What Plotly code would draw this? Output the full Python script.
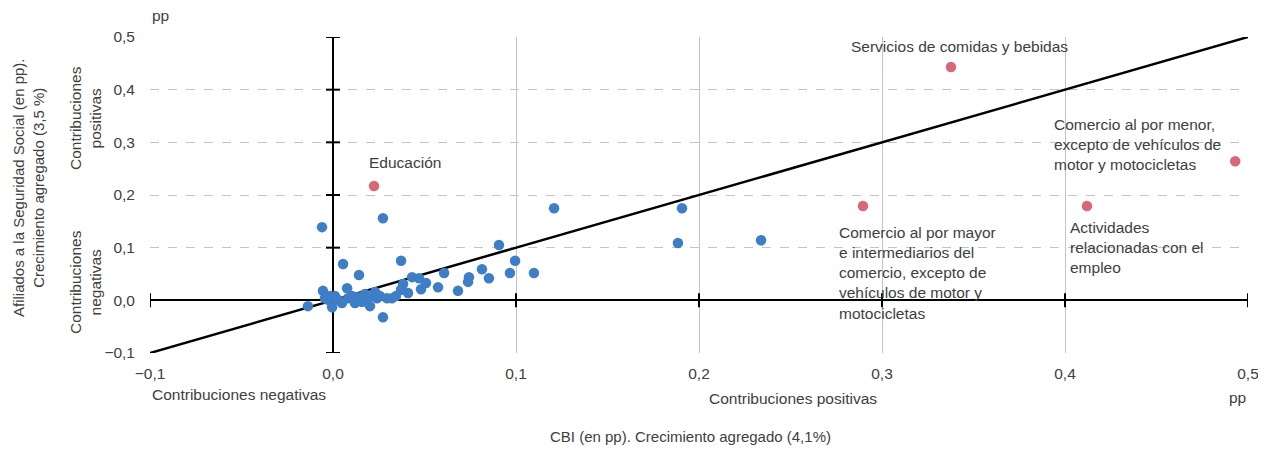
import plotly.graph_objects as go

# Blue points (other sectors)
blue_x = [-0.0060, 0.0273, 0.1208, 0.1907, 0.1885, 0.2339, 0.0907, 0.0995, 0.0967, 0.1098,
          0.0372, 0.0055, 0.0142, 0.0273, -0.0137, 0.0814, 0.0852, 0.0607, 0.0743, 0.0738,
          0.0683, 0.0574, 0.0432, 0.0470, 0.0508, 0.0481, 0.0383, 0.0410, 0.0372, 0.0295,
          0.0322, -0.0055, 0.0077, 0.0202, -0.0027, -0.0005, 0.0027, 0.0082, 0.0137, 0.0175,
          0.0230, 0.0240, 0.0158, 0.0120, 0.0049, -0.0016, -0.0044, 0.0011, 0.0104, 0.0191,
          0.0257, 0.0344]
blue_y = [0.139, 0.156, 0.175, 0.175, 0.109, 0.114, 0.105, 0.075, 0.052, 0.052,
          0.075, 0.069, 0.048, -0.032, -0.011, 0.059, 0.042, 0.052, 0.044, 0.035,
          0.018, 0.025, 0.044, 0.042, 0.033, 0.021, 0.031, 0.014, 0.020, 0.004,
          0.004, 0.018, 0.023, -0.011, 0.001, -0.013, 0.001, 0.004, 0.006, 0.012,
          0.016, 0.004, -0.003, -0.005, -0.005, 0.008, 0.004, 0.008, 0.008, 0.004,
          0.008, 0.008]

# Highlighted sectors
red_names = ["Educación", "Servicios de comidas y bebidas",
             "Comercio al por mayor e intermediarios del comercio, excepto de vehículos de motor y motocicletas",
             "Actividades relacionadas con el empleo",
             "Comercio al por menor, excepto de vehículos de motor y motocicletas"]
red_x = [0.0224, 0.3377, 0.2896, 0.4120, 0.4930]
red_y = [0.217, 0.443, 0.179, 0.179, 0.264]

diag = [-0.1, 0.5]
x_ticks = [-0.1, 0.0, 0.1, 0.2, 0.3, 0.4, 0.5]
y_ticks = [-0.1, 0.0, 0.1, 0.2, 0.3, 0.4, 0.5]

TXT = "#404040"
FONT = "Liberation Sans, Arial, sans-serif"
FS = 15.5

# page offset of the figure (body margin)
OFF = 8
PL, PR, PT, PB = 150, 1248, 37, 353  # plot area in page pixels
W, H = 1250, 438

fig = go.Figure()
fig.add_trace(go.Scatter(x=diag, y=diag, mode="lines",
                         line=dict(color="black", width=2.5), showlegend=False, hoverinfo="skip"))
# tick marks on the zero axes
fig.add_trace(go.Scatter(x=[0] * len(y_ticks), y=y_ticks, mode="markers",
                         marker=dict(symbol="line-ew", size=10, line=dict(color="black", width=2)),
                         showlegend=False, hoverinfo="skip"))
fig.add_trace(go.Scatter(x=x_ticks, y=[0] * len(x_ticks), mode="markers",
                         marker=dict(symbol="line-ns", size=10, line=dict(color="black", width=2)),
                         showlegend=False, hoverinfo="skip"))
fig.add_trace(go.Scatter(x=blue_x, y=blue_y, mode="markers",
                         marker=dict(color="#3D7EC7", size=10.5, line=dict(width=0)),
                         showlegend=False))
fig.add_trace(go.Scatter(x=red_x, y=red_y, mode="markers", text=red_names,
                         marker=dict(color="#D9677A", size=10.5, line=dict(width=0)),
                         showlegend=False))


def px2x(px):
    return -0.1 + (px - PL) / (PR - PL) * 0.6


def px2y(py):
    return 0.5 - (py - PT) / (PB - PT) * 0.6


ann = [
    dict(px=849, py=46, text="Servicios de comidas y bebidas", yanchor="middle"),
    dict(px=367, py=162, text="Educación", yanchor="middle"),
    dict(px=1052, py=114,
         text="Comercio al por menor,<br>excepto de vehículos de<br>motor y motocicletas", yanchor="top"),
    dict(px=837, py=222,
         text="Comercio al por mayor<br>e intermediarios del<br>comercio, excepto de<br>vehículos de motor y<br>motocicletas",
         yanchor="top"),
    dict(px=1068, py=217,
         text="Actividades<br>relacionadas con el<br>empleo", yanchor="top"),
]
for a in ann:
    fig.add_annotation(xref="x", yref="y", x=px2x(a["px"]), y=px2y(a["py"]), text=a["text"],
                       xanchor="left", yanchor=a["yanchor"], showarrow=False, align="left",
                       font=dict(family=FONT, size=FS, color=TXT))

paper_ann = [
    dict(x=150, y=15, text="pp", xanchor="left", size=FS),
    dict(x=1248, y=397, text="pp", xanchor="right", size=FS),
    dict(x=150, y=394, text="Contribuciones negativas", xanchor="left", size=FS),
    dict(x=793, y=398, text="Contribuciones positivas", xanchor="center", size=FS),
    dict(x=690, y=436, text="CBI (en pp). Crecimiento agregado (4,1%)", xanchor="center", size=15),
]
for a in paper_ann:
    fig.add_annotation(xref="paper", yref="paper", x=(a["x"] - PL) / (PR - PL),
                       y=(PB - a["y"]) / (PB - PT), text=a["text"], xanchor=a["xanchor"],
                       yanchor="middle", showarrow=False,
                       font=dict(family=FONT, size=a["size"], color=TXT))

rot_ann = [
    dict(x=28, y=188, size=15, text="Afiliados a la Seguridad Social (en pp).<br>Crecimiento agregado (3,5 %)"),
    dict(x=85, y=118, size=FS, text="Contribuciones<br>positivas"),
    dict(x=85, y=282, size=FS, text="Contribuciones<br>negativas"),
]
for a in rot_ann:
    fig.add_annotation(xref="paper", yref="paper", x=(a["x"] - PL) / (PR - PL),
                       y=(PB - a["y"]) / (PB - PT), text=a["text"], textangle=-90,
                       xanchor="center", yanchor="middle", showarrow=False, align="center",
                       font=dict(family=FONT, size=a["size"], color=TXT))

fig.update_layout(
    width=W, height=H,
    margin=dict(l=PL - OFF, r=W - (PR - OFF), t=PT - OFF, b=H - (PB - OFF), autoexpand=False),
    plot_bgcolor="white", paper_bgcolor="white",
    separators=", ",
    font=dict(family=FONT, size=FS, color=TXT),
    xaxis=dict(range=[-0.1, 0.5], tickvals=x_ticks, tickformat=".1f", automargin=False,
               showgrid=True, gridcolor="#c4c4c4", gridwidth=1,
               zeroline=True, zerolinecolor="black", zerolinewidth=2,
               showline=False, ticks="", ticklabelstandoff=9, ticklabeloverflow="allow",
               tickfont=dict(size=FS, color=TXT)),
    yaxis=dict(range=[-0.1, 0.5], tickvals=y_ticks, tickformat=".1f", automargin=False,
               showgrid=True, gridcolor="#c4c4c4", gridwidth=1, griddash="dash",
               zeroline=True, zerolinecolor="black", zerolinewidth=2,
               showline=False, ticks="", ticklabelstandoff=14, tickfont=dict(size=FS, color=TXT)),
)

fig.write_html("out.html")
